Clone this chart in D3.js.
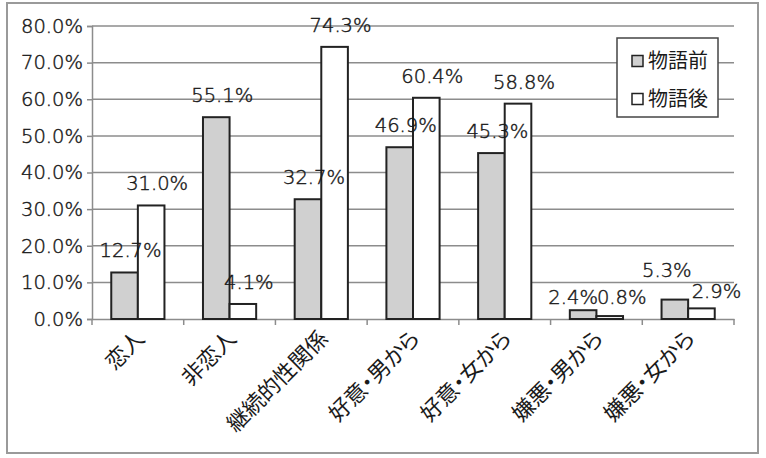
<!DOCTYPE html>
<html>
<head>
<meta charset="utf-8">
<script src="https://cdnjs.cloudflare.com/ajax/libs/d3/7.8.5/d3.min.js"></script>
<style>
  body { margin: 0; background: #fff; }
  svg text { font-family: "Noto Sans CJK JP", "Noto Sans", sans-serif; font-weight: 300; fill: #2a2a2a; }
  svg text.num { font-family: "DejaVu Sans", sans-serif; font-weight: 200; fill: #1a1a1a; stroke: #1a1a1a; stroke-width: 0.45px; }
  svg text.xlabel { font-weight: 400; font-feature-settings: "palt"; fill: #1a1a1a; }
</style>
</head>
<body>
<svg id="chart" width="766" height="458"></svg>
<script>
// chart data
var categories = ['恋人', '非恋人', '継続的性関係', '好意・男から', '好意・女から', '嫌悪・男から', '嫌悪・女から'];
var seriesNames = ['物語前', '物語後'];
var before = [12.7, 55.1, 32.7, 46.9, 45.3, 2.4, 5.3];
var after = [31.0, 4.1, 74.3, 60.4, 58.8, 0.8, 2.9];
var yTicks = [0, 10, 20, 30, 40, 50, 60, 70, 80];

var fills = ['#d0d0d0', '#ffffff'];

var svg = d3.select('#chart');
var margin = {left: 92, right: 32, top: 26, bottom: 139};
var width = 766 - margin.left - margin.right;
var height = 458 - margin.top - margin.bottom;

// outer frame
svg.append('rect')
    .attr('x', 7).attr('y', 3)
    .attr('width', 751).attr('height', 450)
    .attr('fill', '#fff')
    .attr('stroke', '#9a9a9a')
    .attr('stroke-width', 2);

var g = svg.append('g').attr('transform', 'translate(' + margin.left + ',' + margin.top + ')');

var x = d3.scaleBand().domain(categories).range([0, width]);
var x1 = d3.scaleBand().domain(seriesNames).range([x.bandwidth() * 0.21, x.bandwidth() * 0.79]).padding(0);
var y = d3.scaleLinear().domain([0, 80]).range([height, 0]);

// gridlines
g.selectAll('.grid')
    .data(yTicks.filter(function (d) { return d > 0; }))
    .enter().append('line')
    .attr('class', 'grid')
    .attr('x1', 0).attr('x2', width)
    .attr('y1', y).attr('y2', y)
    .attr('stroke', '#8c8c8c')
    .attr('stroke-width', 1.5);

// y axis
var yAxis = g.append('g')
    .call(d3.axisLeft(y).tickValues(yTicks).tickSize(5).tickPadding(4)
        .tickFormat(function (d) { return d3.format('.1f')(d) + '%'; }));
yAxis.select('.domain').attr('stroke', '#8c8c8c').attr('stroke-width', 1.5);
yAxis.selectAll('.tick line').attr('stroke', '#8c8c8c').attr('stroke-width', 1.5);
yAxis.selectAll('text').attr('class', 'num').style('font-size', '19.5px');

// x axis
var xAxis = g.append('g')
    .attr('transform', 'translate(0,' + height + ')')
    .call(d3.axisBottom(x).tickSize(0).tickFormat(''));
xAxis.select('.domain').attr('stroke', '#8c8c8c').attr('stroke-width', 1.5);
g.selectAll('.xtick')
    .data(d3.range(categories.length + 1))
    .enter().append('line')
    .attr('x1', function (i) { return i * x.step(); })
    .attr('x2', function (i) { return i * x.step(); })
    .attr('y1', height).attr('y2', height + 6)
    .attr('stroke', '#8c8c8c').attr('stroke-width', 1.5);

g.selectAll('.xlabel')
    .data(categories)
    .enter().append('text')
    .attr('class', 'xlabel')
    .attr('text-anchor', 'end')
    .style('font-size', '22px')
    .attr('transform', function (d) {
        return 'translate(' + (x(d) + x.bandwidth() / 2 + 8) + ',' + (height + 21) + ') rotate(-45)';
    })
    .text(function (d) { return d; });

// bars
var rows = categories.map(function (c, i) {
    return {cat: c, values: [before[i], after[i]]};
});

var groups = g.selectAll('.group')
    .data(rows)
    .enter().append('g')
    .attr('transform', function (d) { return 'translate(' + x(d.cat) + ',0)'; });

groups.selectAll('rect')
    .data(function (d) { return d.values.map(function (v, j) { return {s: seriesNames[j], v: v, j: j}; }); })
    .enter().append('rect')
    .attr('x', function (d) { return x1(d.s); })
    .attr('width', x1.bandwidth())
    .attr('y', function (d) { return y(d.v); })
    .attr('height', function (d) { return height - y(d.v); })
    .attr('fill', function (d) { return fills[d.j]; })
    .attr('stroke', '#222')
    .attr('stroke-width', 2);

// data labels (a few were moved by hand in the original)
var nudge = {'2.4': [-16, 9], '0.8': [6, 3], '5.3': [-14, -8], '2.9': [9, 5]};
groups.selectAll('.val')
    .data(function (d) { return d.values.map(function (v, j) { return {s: seriesNames[j], v: v}; }); })
    .enter().append('text')
    .attr('class', 'val num')
    .attr('text-anchor', 'middle')
    .style('font-size', '19.5px')
    .attr('x', function (d) {
        var n = nudge[d.v.toFixed(1)] || [0, 0];
        return x1(d.s) + x1.bandwidth() / 2 + 6 + n[0];
    })
    .attr('y', function (d) {
        var n = nudge[d.v.toFixed(1)] || [0, 0];
        return y(d.v) - 15 + n[1];
    })
    .text(function (d) { return d.v.toFixed(1) + '%'; });

// legend
var legend = svg.append('g').attr('transform', 'translate(617,38)');
legend.append('rect')
    .attr('width', 101).attr('height', 79)
    .attr('fill', '#fff')
    .attr('stroke', '#444').attr('stroke-width', 1.5);
seriesNames.forEach(function (name, j) {
    var row = legend.append('g').attr('transform', 'translate(15,' + (23 + j * 38) + ')');
    row.append('rect')
        .attr('x', 0).attr('y', -5.5)
        .attr('width', 11).attr('height', 11)
        .attr('fill', fills[j])
        .attr('stroke', '#222').attr('stroke-width', 1.5);
    row.append('text')
        .attr('x', 16).attr('y', 7)
        .style('font-size', '20px')
        .style('font-weight', 400)
        .style('fill', '#1a1a1a')
        .text(name);
});
</script>
</body>
</html>
